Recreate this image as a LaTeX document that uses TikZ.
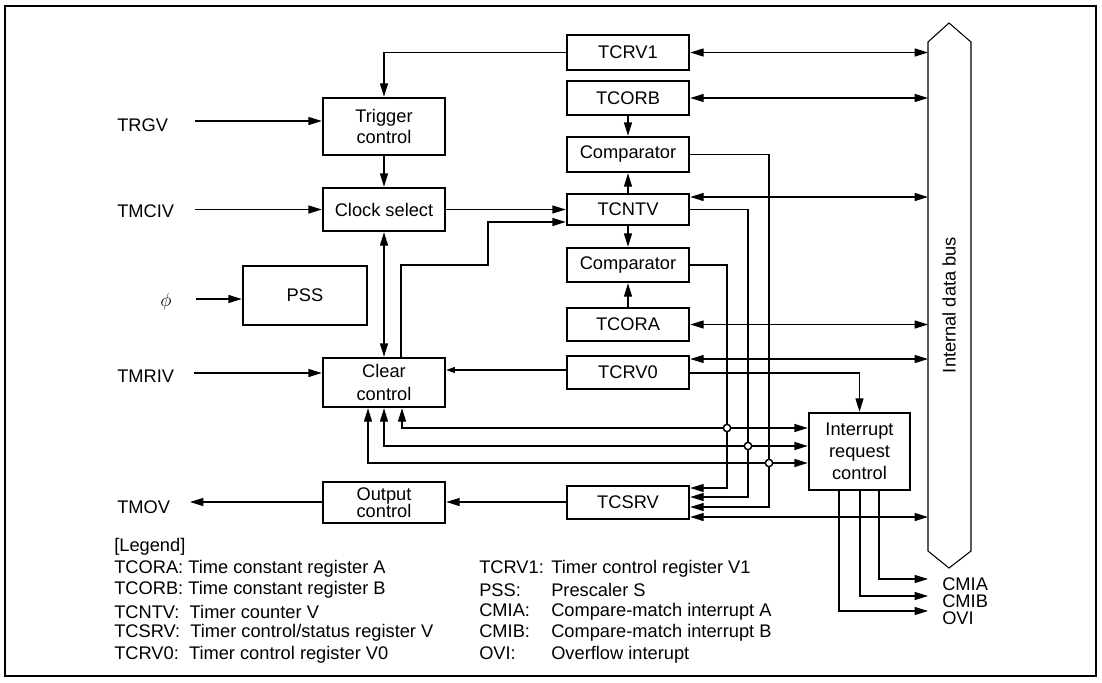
\documentclass[tikz,border=0pt]{standalone}
\usepackage{fontspec}
\setmainfont{Liberation Sans}
\usetikzlibrary{arrows.meta,calc}
\begin{document}
\begin{tikzpicture}[x=0.75pt,y=-0.75pt,
  font=\fontsize{13.7}{16.3}\selectfont,
  blk/.style={draw, line width=1.9pt, inner sep=0pt, align=center, minimum width=91.5pt},
  wire/.style={line width=0.9pt},
  arr/.style={wire, -{Triangle[length=10pt,width=6pt]}},
  darr/.style={wire, {Triangle[length=10pt,width=6pt]}-{Triangle[length=10pt,width=6pt]}},
  sarr/.style={wire, -{Triangle[length=6.5pt,width=4.5pt]}},
  jn/.style={circle, draw, fill=white, line width=1.1pt, inner sep=0pt, minimum size=5.5pt},
  lbl/.style={inner sep=0pt, anchor=west}]
\useasboundingbox (0,0) rectangle (1102,682);
% frame
\draw[line width=2pt] (5,6) rectangle (1096,676);
% internal data bus
\draw[line width=0.8pt] (928,42) -- (949,23) -- (971,42) -- (971,551) -- (949,568) -- (928,551) -- cycle;
\node[rotate=90] (buslbl) at (949,305) {Internal data bus};
\coordinate (busL) at (928,0);

% register column
\node[blk, minimum height=26.25pt] (tcrv1) at (628,52.5) {TCRV1};
\node[blk, minimum height=25.5pt] (tcorb) at (628,98) {TCORB};
\node[blk, minimum height=26.25pt] (cmpb) at (628,154.5) {Comparator};
\node[blk, minimum height=23.25pt] (tcntv) at (628,209.5) {TCNTV};
\node[blk, minimum height=25.5pt] (cmpa) at (628,265) {Comparator};
\node[blk, minimum height=24.75pt] (tcora) at (628,324.5) {TCORA};
\node[blk, minimum height=24.75pt] (tcrv0) at (628,372.5) {TCRV0};
\node[blk, minimum height=24.75pt] (tcsrv) at (628,502.5) {TCSRV};

% control column
\node[blk, minimum height=42.75pt] (trig) at (384,126.5) {Trigger\\control};
\node[blk, minimum height=32.25pt] (clk) at (384,209.5) {Clock select};
\node[blk, minimum width=93pt, minimum height=44.25pt] (pss) at (305,295.5) {PSS};
\node[blk, minimum height=36.75pt, font=\fontsize{13.7}{17}\selectfont] (clr) at (384,382.5) {Clear\\control};
\node[blk, minimum height=30.75pt, font=\fontsize{13.7}{12.8}\selectfont] (outc) at (384,502.5) {Output\\control};
\node[blk, minimum width=75.75pt, minimum height=57.75pt, font=\fontsize{13.7}{16.5}\selectfont] (irq) at (859.5,451.5) {Interrupt\\request\\control};

% external signal labels
\node[lbl] (trgv) at (117,125) {TRGV};
\node[lbl] (tmciv) at (117,211) {TMCIV};
\node[lbl] (tmriv) at (117,376) {TMRIV};
\node[lbl] (tmov) at (117,507) {TMOV};
\node[font=\fontsize{15}{16}\selectfont] (phi) at (166,302) {$\phi$};
\coordinate (trgvA) at (195,121);
\coordinate (tmcivA) at (195,209.5);
\coordinate (phiA) at (196,299);
\coordinate (tmrivA) at (194,373);
\coordinate (tmovA) at (190,502);

% inputs
\draw[arr] (trgvA) -- (trig.west |- trgvA);
\draw[arr] (tmcivA) -- (clk.west |- tmcivA);
\draw[arr] (phiA) -- (pss.west |- phiA);
\draw[arr] (tmrivA) -- (clr.west |- tmrivA);

% control connections
\draw[arr] (tcrv1.west) -| (trig.north);
\draw[arr] (trig.south) -- (clk.north);
\draw[arr] (clk.east) -- (tcntv.west |- clk.east);
\draw[darr] (clk.south) -- (clr.north);
\draw[arr] (clr.north -| 401,0) -- (401,265) -- (488,265) -- (488,222) -- (tcntv.west |- 0,222);
\draw[sarr] (tcrv0.west |- 0,370) -- (clr.east |- 0,370);

% register internal
\draw[arr] (tcorb.south) -- (cmpb.north);
\draw[arr] (tcntv.north) -- (cmpb.south);
\draw[arr] (tcntv.south) -- (cmpa.north);
\draw[arr] (tcora.north) -- (cmpa.south);

% bus connections
\draw[darr] (tcrv1.east) -- (tcrv1.east -| busL);
\draw[darr] (tcorb.east) -- (tcorb.east -| busL);
\draw[darr] (tcntv.east |- 0,197) -- (busL |- 0,197);
\draw[darr] (tcora.east) -- (tcora.east -| busL);
\draw[darr] (tcrv0.east |- 0,359) -- (busL |- 0,359);
\draw[darr] (tcsrv.east |- 0,517) -- (busL |- 0,517);

% comparator / counter outputs to TCSRV
\draw[arr] (cmpb.east) -- (769,154.5) -- (769,507) -- (tcsrv.east |- 0,507);
\draw[arr] (tcntv.east) -- (748,209.5) -- (748,497) -- (tcsrv.east |- 0,497);
\draw[arr] (cmpa.east) -- (727,265) -- (727,488) -- (tcsrv.east |- 0,488);

% signals to clear control and interrupt request control
\draw[darr] (clr.south -| 402,0) -- (402,428) -- (irq.west |- 0,428);
\draw[darr] (clr.south) -- (384,446) -- (irq.west |- 0,446);
\draw[darr] (clr.south -| 368,0) -- (368,463) -- (irq.west |- 0,463);
\node[jn] (j1) at (727,428) {};
\node[jn] (j2) at (748,446) {};
\node[jn] (j3) at (769,463) {};

% TCRV0 to interrupt
\draw[arr] (tcrv0.east |- 0,373) -| (irq.north);

% interrupt outputs
\coordinate (cmiaP) at (928,579);
\coordinate (cmibP) at (928,596);
\coordinate (oviP) at (928,611);
\draw[arr] (irq.south -| 879,0) |- (cmiaP);
\draw[arr] (irq.south -| 860,0) |- (cmibP);
\draw[arr] (irq.south -| 839,0) |- (oviP);
\node[lbl] (cmia) at (942,584) {CMIA};
\node[lbl] (cmib) at (942,601) {CMIB};
\node[lbl] (ovi) at (942,618) {OVI};

% output
\draw[arr] (tcsrv.west |- 0,502) -- (outc.east |- 0,502);
\draw[arr] (outc.west |- 0,502) -- (tmovA);

% legend
\node[lbl] (lg) at (114,547) {[Legend]};
\node[lbl] (lg1) at (114,569) {TCORA: Time constant register A};
\node[lbl] (lg2) at (114,590) {TCORB: Time constant register B};
\node[lbl] (lg3) at (114,612) {TCNTV:\ \ Timer counter V};
\node[lbl] (lg4) at (114,633) {TCSRV:\ \ Timer control/status register V};
\node[lbl] (lg5) at (114,655) {TCRV0:\ \ Timer control register V0};
\node[lbl] (lr1) at (479,569) {\makebox[54pt][l]{TCRV1:}Timer control register V1};
\node[lbl] (lr2) at (479,590) {\makebox[54pt][l]{PSS:}Prescaler S};
\node[lbl] (lr3) at (479,612) {\makebox[54pt][l]{CMIA:}Compare-match interrupt A};
\node[lbl] (lr4) at (479,633) {\makebox[54pt][l]{CMIB:}Compare-match interrupt B};
\node[lbl] (lr5) at (479,655) {\makebox[54pt][l]{OVI:}Overflow interupt};
\end{tikzpicture}
\end{document}
